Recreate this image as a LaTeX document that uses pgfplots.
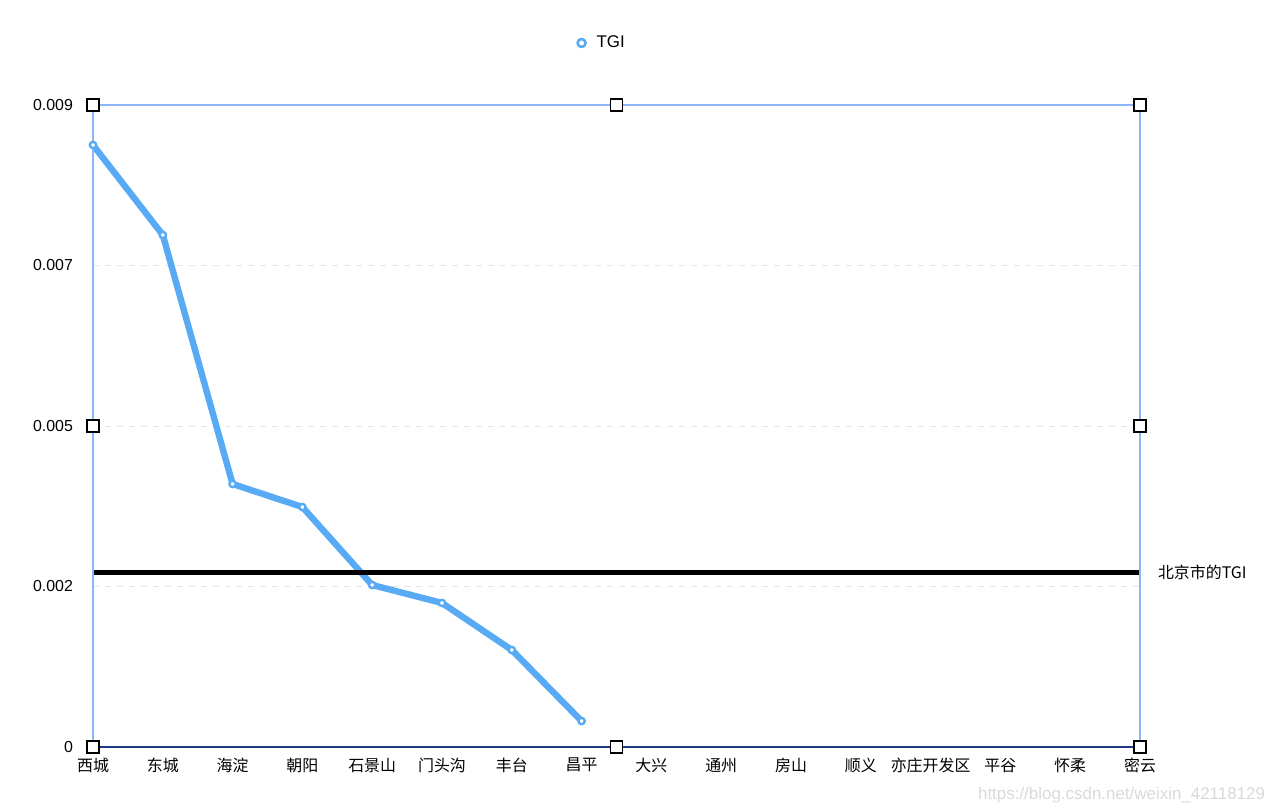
\documentclass[border=0pt]{standalone}
\usepackage{fontspec}
\setmainfont{Liberation Sans}
\newfontfamily\cjk{Noto Sans CJK SC}
\usepackage{pgfplots}
\pgfplotsset{compat=1.18}
\definecolor{tgiblue}{RGB}{88,170,245}
\definecolor{frameblue}{RGB}{140,180,248}
\definecolor{navy}{RGB}{30,58,130}
\tikzset{handle/.style={draw=black, fill=white, minimum size=6bp, inner sep=0pt, line width=0.6bp}}

\begin{document}
\begin{tikzpicture}
\useasboundingbox (0,0) rectangle (640bp,406bp);
\begin{axis}[
  at={(46.5bp,32.5bp)}, anchor=south west,
  scale only axis, width=523.5bp, height=321bp,
  xmin=0, xmax=15, ymin=0, ymax=0.009,
  axis line style={draw=none},
  xtick={0,...,15},
  xticklabels={西城,东城,海淀,朝阳,石景山,门头沟,丰台,昌平,大兴,通州,房山,顺义,亦庄开发区,平谷,怀柔,密云},
  ytick={0,0.00225,0.0045,0.00675,0.009},
  yticklabels={0,0.002,0.005,0.007,0.009},
  scaled y ticks=false,
  major tick length=0pt,
  ymajorgrids,
  grid style={dashed, color=black!10, line width=0.4bp},
  /pgf/number format/assume math mode=true,
  tick label style={font=\fontsize{8}{9}\selectfont},
  xticklabel style={font=\cjk\fontsize{8}{9}\selectfont, yshift=-2bp},
  yticklabel style={xshift=-6.5bp},
  clip=false,
  legend style={at={(0.5,1)}, anchor=center, xshift=-7bp, yshift=31bp,
    draw=none, fill=none, font=\fontsize{8.5}{9}\selectfont},
  legend image code/.code={\draw[tgiblue, line width=1.3bp, fill=white] (0,0) circle (2bp);
    \path[draw=none, fill=none] (0,0) rectangle (5.5bp,0.1bp);},
]
\addplot[tgiblue, line width=3.2bp, line join=round,
  mark=*, mark size=1.6bp, mark options={fill=white, draw=tgiblue, line width=1.2bp}]
  coordinates {
  (0,0.008439) (1,0.007178) (2,0.003687) (3,0.003364)
  (4,0.002271) (5,0.002019) (6,0.00136) (7,0.000364)
  };
\addlegendentry{TGI}
\addplot[black, line width=2.5bp, forget plot]
  coordinates {(0,0.002453) (15,0.002453)};
\node[anchor=west, xshift=5.5bp, font=\cjk\fontsize{8}{9}\selectfont]
  at (axis cs:15,0.002453) {北京市的TGI};
\draw[frameblue, line width=1bp] (rel axis cs:0,0) -- (rel axis cs:0,1)
  -- (rel axis cs:1,1) -- (rel axis cs:1,0);
\draw[navy, line width=1.2bp] (rel axis cs:0,0) -- (rel axis cs:1,0);
\node[handle] at (rel axis cs:0,0) {};
\node[handle] at (rel axis cs:0.5,0) {};
\node[handle] at (rel axis cs:1,0) {};
\node[handle] at (rel axis cs:0,0.5) {};
\node[handle] at (rel axis cs:1,0.5) {};
\node[handle] at (rel axis cs:0,1) {};
\node[handle] at (rel axis cs:0.5,1) {};
\node[handle] at (rel axis cs:1,1) {};
\end{axis}
\node[anchor=east, text=black!15, font=\fontsize{8.5}{9}\selectfont]
  at (636bp,8.5bp) {https://blog.csdn.net/weixin\_42118129};
\end{tikzpicture}
\end{document}
